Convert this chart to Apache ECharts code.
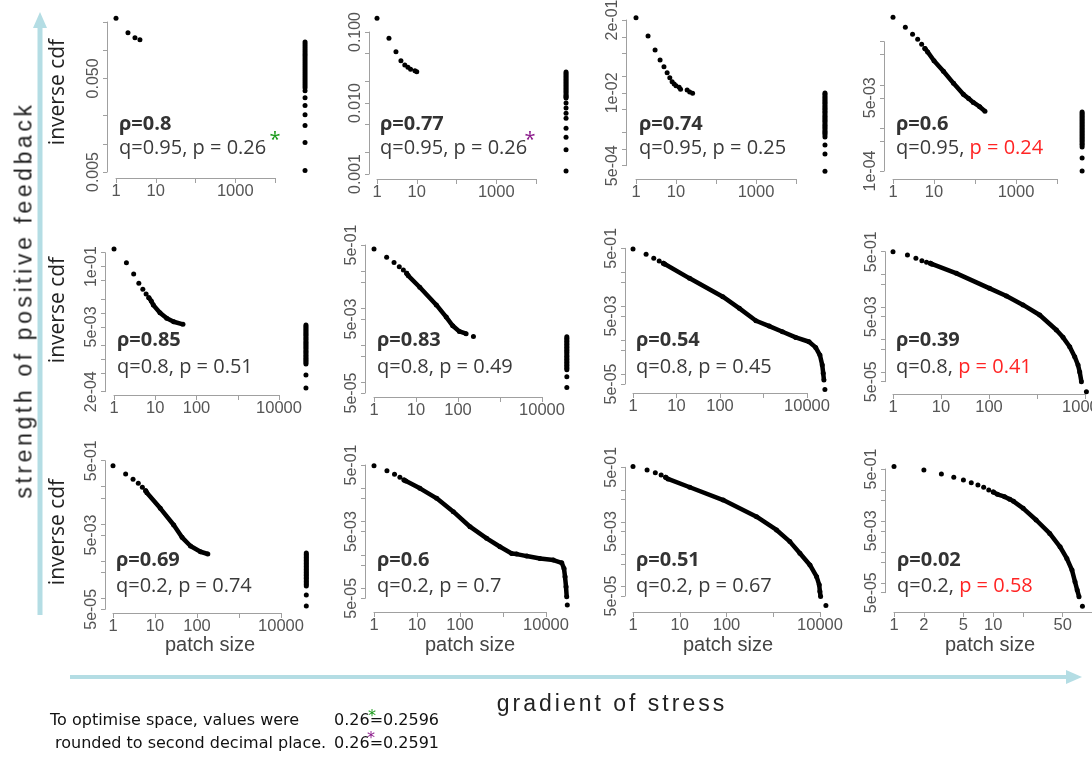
<!DOCTYPE html>
<html><head><meta charset="utf-8">
<script src="https://cdn.jsdelivr.net/npm/echarts@6/dist/echarts.min.js"></script>
<style>
html,body{margin:0;padding:0;background:#fff;}
#wrap{position:relative;width:1092px;height:758px;overflow:hidden;}
#c{position:absolute;left:0;top:0;width:1092px;height:758px;}
.ttl{position:absolute;white-space:nowrap;color:#222;font-family:'Liberation Sans',Arial,sans-serif;z-index:5;}
</style></head>
<body><div id="wrap"><div id="c"></div>
<div class="ttl" style="left:24px;top:300px;transform:translate(-50%,-50%) rotate(-90deg);font-size:23px;letter-spacing:3.6px;">strength of positive feedback</div>
<div class="ttl" style="left:612px;top:703px;transform:translate(-50%,-50%);font-size:23px;letter-spacing:3px;">gradient of stress</div>
</div>
<script>
// ---------- tick values and labels ----------
const row1XTicks = [1, 10, 100, 1000, 10000];
const row1XLabels = [[1, '1'], [10, '10'], [1000, '1000']];
const xTicks = [1, 10, 100, 1000, 10000];
const xLabels = [[1, '1'], [10, '10'], [100, '100'], [10000, '10000']];
const p12XTicks = [1, 2, 5, 10, 20, 50, 100];
const p12XLabels = [[1, '1'], [2, '2'], [5, '5'], [10, '10'], [50, '50']];
const p1YTicks = [0.005, 0.01, 0.02, 0.05, 0.1, 0.2];
const p1YLabels = [[0.005, '0.005'], [0.05, '0.050']];
const p2YTicks = [0.001, 0.002, 0.005, 0.01, 0.02, 0.05, 0.1];
const p2YLabels = [[0.001, '0.001'], [0.01, '0.010'], [0.1, '0.100']];
const p3YTicks = [5e-4, 1e-3, 2e-3, 5e-3, 1e-2, 2e-2, 5e-2, 1e-1, 2e-1];
const p3YLabels = [[5e-4, '5e-04'], [1e-2, '1e-02'], [2e-1, '2e-01']];
const p4YTicks = [1e-4, 5e-4, 1e-3, 5e-3, 1e-2, 5e-2, 1e-1];
const p4YLabels = [[1e-4, '1e-04'], [5e-3, '5e-03']];
const p5YTicks = [2e-4, 5e-4, 1e-3, 2e-3, 5e-3, 1e-2, 2e-2, 5e-2, 1e-1, 2e-1];
const p5YLabels = [[2e-4, '2e-04'], [5e-3, '5e-03'], [1e-1, '1e-01']];
const y15Ticks = [5e-5, 1e-4, 5e-4, 1e-3, 5e-3, 1e-2, 5e-2, 1e-1, 5e-1];
const y15Labels = [[5e-5, '5e-05'], [5e-3, '5e-03'], [5e-1, '5e-01']];

// ---------- annotations ----------
const rhoVals = ['0.8', '0.77', '0.74', '0.6', '0.85', '0.83', '0.54', '0.39', '0.69', '0.6', '0.51', '0.02'];
const qVals = ['0.95', '0.95', '0.95', '0.95', '0.8', '0.8', '0.8', '0.8', '0.2', '0.2', '0.2', '0.2'];
const pVals = ['0.26', '0.26', '0.25', '0.24', '0.51', '0.49', '0.45', '0.41', '0.74', '0.7', '0.67', '0.58'];
const pRed = [false, false, false, true, false, false, false, true, false, false, false, true];

// ---------- data: [patch size, inverse cdf] ----------
const p1Dots = [[1, 0.219], [2, 0.154], [3, 0.136], [4, 0.129]];
const p1Side = [0.1225, 0.1167, 0.1111, 0.1058, 0.1007, 0.0959, 0.0913, 0.087, 0.0828, 0.0789, 0.0751, 0.0715, 0.0681, 0.0648, 0.0617, 0.0588, 0.056, 0.0533, 0.0507, 0.0483, 0.046, 0.0438, 0.0417, 0.0397, 0.0369, 0.0311, 0.0256, 0.0205, 0.0157, 0.0103, 0.0052];
const p2Dots = [[1, 0.156], [2, 0.0815], [3, 0.0528], [4, 0.0394], [5, 0.0343], [6, 0.0318], [7, 0.0298], [9, 0.0285], [10, 0.0276]];
const p2Side = [0.0273, 0.026, 0.0248, 0.0236, 0.0225, 0.0214, 0.0204, 0.0194, 0.0185, 0.0176, 0.0168, 0.016, 0.0152, 0.0145, 0.0138, 0.0131, 0.01255, 0.0121, 0.01176, 0.01, 0.0085, 0.0072, 0.0061, 0.0044, 0.0033, 0.0022, 0.0011];
const p3Dots = [[1, 0.22], [2, 0.104], [3, 0.058], [4, 0.0386], [5, 0.0293], [6, 0.0229], [7, 0.0187], [8, 0.0158], [9, 0.0144], [10, 0.0134], [12, 0.0126], [13, 0.0116], [19, 0.0113], [22, 0.0104], [26, 0.0098]];
const p3Side = [0.00994, 0.0094, 0.00879, 0.0083, 0.00777, 0.0073, 0.00687, 0.0065, 0.00607, 0.0057, 0.00537, 0.0051, 0.00474, 0.0045, 0.00419, 0.0039, 0.0037, 0.0035, 0.00328, 0.0031, 0.0029, 0.0027, 0.00256, 0.0024, 0.00226, 0.0021, 0.002, 0.0019, 0.00177, 0.00163, 0.00117, 0.00081, 0.0004];
const p4Dots = [[1, 0.368], [2, 0.216], [3, 0.148], [4, 0.114], [5, 0.087], [6, 0.07]];
const p4Trail = [[6, 0.07], [7, 0.058], [10, 0.0362], [17, 0.0206], [30, 0.0108], [52, 0.006], [70, 0.0048], [91, 0.0039], [130, 0.0031], [175, 0.00244]];
const p4Side = [0.00234, 0.00215, 0.00199, 0.00184, 0.0017, 0.00157, 0.00145, 0.00134, 0.00123, 0.00114, 0.00105, 0.00097, 0.000893, 0.00082, 0.000762, 0.0007, 0.000649, 0.0006, 0.000552, 0.00051, 0.000471, 0.00043, 0.000401, 0.00036, 0.0002, 0.0001];
const p5Dots = [[1, 0.24], [2, 0.1216], [3, 0.0693], [4, 0.0437], [5, 0.0324], [6, 0.0257], [7, 0.0213]];
const p5Trail = [[7, 0.0213], [8, 0.0181], [9, 0.0148], [13, 0.0101], [19, 0.00766], [28, 0.00647], [47, 0.00568]];
const p5Side = [0.00549, 0.0051, 0.00473, 0.0044, 0.00408, 0.0038, 0.00351, 0.0033, 0.00302, 0.0028, 0.0026, 0.0024, 0.00224, 0.0021, 0.00193, 0.0018, 0.00166, 0.00154, 0.00143, 0.00133, 0.00123, 0.00114, 0.00106, 0.00098, 0.000916, 0.00085, 0.000789, 0.000457, 0.000239];
const p6Dots = [[1, 0.39], [2, 0.233], [3, 0.167], [4, 0.13], [5, 0.106], [6, 0.0863], [233, 0.00169]];
const p6Trail = [[6, 0.0863], [6.5, 0.0745], [12.3, 0.0361], [30.5, 0.012], [52.5, 0.00562], [75, 0.00328], [108, 0.00231], [156, 0.002]];
const p6Side = [0.00166, 0.0015, 0.00137, 0.00125, 0.00114, 0.00104, 0.000948, 0.00086, 0.000787, 0.00072, 0.000653, 0.0006, 0.000542, 0.00049, 0.00045, 0.00041, 0.000373, 0.00034, 0.00031, 0.00028, 0.000257, 0.000235, 0.000214, 0.000138, 0.00007];
const p7Dots = [[1, 0.477], [2, 0.333], [3, 0.2535], [4, 0.211], [5, 0.181], [25800, 0.0000347]];
const p7Trail = [[5, 0.181], [5.4, 0.1686], [20, 0.0651], [116, 0.0187], [279, 0.0085], [671, 0.00366], [1352, 0.00255], [2729, 0.00173], [5507, 0.00118], [11120, 0.00088], [15800, 0.0006], [19800, 0.000356], [22400, 0.000181], [23600, 0.000103], [24500, 0.0000652]];
const p8Dots = [[1, 0.5], [2, 0.396], [3, 0.312], [4, 0.265], [5, 0.236], [6, 0.219], [10700, 0.0000246]];
const p8Trail = [[6, 0.219], [6.5, 0.204], [21, 0.108], [103, 0.0373], [231, 0.0217], [512, 0.0115], [1138, 0.00564], [2535, 0.00195], [3483, 0.00116], [4800, 0.000597], [6100, 0.000294], [7150, 0.000163], [7760, 0.0001], [8410, 0.00005]];
const p9Dots = [[1, 0.367], [2, 0.219], [3, 0.158], [4, 0.123], [5, 0.096], [6, 0.078]];
const p9Trail = [[6, 0.078], [6.4, 0.0689], [13.4, 0.0261], [27.9, 0.00929], [44, 0.00433], [70, 0.00252], [121, 0.00177], [181, 0.00154]];
const p9Side = [0.00164, 0.0015, 0.00136, 0.00124, 0.00113, 0.00103, 0.000938, 0.00085, 0.000778, 0.00071, 0.000647, 0.00059, 0.000537, 0.00049, 0.000446, 0.00041, 0.00037, 0.00034, 0.000307, 0.00028, 0.000255, 0.000233, 0.000212, 0.000121, 0.0000614];
const p10Dots = [[1, 0.476], [2, 0.337], [3, 0.262], [4, 0.213], [5, 0.177], [31300, 0.0000313]];
const p10Trail = [[5, 0.177], [5.5, 0.166], [11.7, 0.0998], [28.7, 0.05], [70, 0.0199], [171, 0.00703], [417, 0.00315], [851, 0.00176], [1592, 0.00111], [2080, 0.00106], [3550, 0.000924], [7250, 0.000787], [14800, 0.000701], [23200, 0.000582], [26200, 0.000395], [27700, 0.000221], [29200, 0.000111], [30300, 0.0000555]];
const p11Dots = [[1, 0.53], [2, 0.412], [3, 0.34], [4, 0.288], [5, 0.244], [13370, 0.0000252]];
const p11Trail = [[5, 0.244], [5.6, 0.217], [16.4, 0.12], [85, 0.048], [439, 0.0146], [1176, 0.00565], [2266, 0.00245], [3715, 0.00107], [6086, 0.000462], [8460, 0.0002], [9620, 0.000111], [9950, 0.0000687], [10300, 0.0000479]];
const p12Dots = [[1, 0.6], [2, 0.464], [3, 0.345], [4, 0.269], [5, 0.22], [6, 0.181], [7, 0.152], [8, 0.128], [9, 0.105], [10, 0.09], [79, 0.0000184]];
const p12Trail = [[10, 0.09], [11, 0.0757], [13, 0.0637], [14.7, 0.0521], [16, 0.045], [20, 0.0267], [27, 0.0112], [37, 0.00414], [47, 0.00153], [55, 0.000644], [62, 0.000269], [66.5, 0.000113], [70, 0.0000607], [73, 0.0000371]];
// patch size at which the side strip of each panel sits
const sideXs = [57000, 57000, 53000, 41000, 45000, 39000, 0, 0, 40000, 0, 0, 0];

const panels = [
  {dots: p1Dots, trail: [], side: p1Side, xT: row1XTicks, xL: row1XLabels, yT: p1YTicks, yL: p1YLabels},
  {dots: p2Dots, trail: [], side: p2Side, xT: row1XTicks, xL: row1XLabels, yT: p2YTicks, yL: p2YLabels},
  {dots: p3Dots, trail: [], side: p3Side, xT: row1XTicks, xL: row1XLabels, yT: p3YTicks, yL: p3YLabels},
  {dots: p4Dots, trail: p4Trail, side: p4Side, xT: row1XTicks, xL: row1XLabels, yT: p4YTicks, yL: p4YLabels},
  {dots: p5Dots, trail: p5Trail, side: p5Side, xT: xTicks, xL: xLabels, yT: p5YTicks, yL: p5YLabels},
  {dots: p6Dots, trail: p6Trail, side: p6Side, xT: xTicks, xL: xLabels, yT: y15Ticks, yL: y15Labels},
  {dots: p7Dots, trail: p7Trail, side: [], xT: xTicks, xL: xLabels, yT: y15Ticks, yL: y15Labels},
  {dots: p8Dots, trail: p8Trail, side: [], xT: xTicks, xL: xLabels, yT: y15Ticks, yL: y15Labels},
  {dots: p9Dots, trail: p9Trail, side: p9Side, xT: xTicks, xL: xLabels, yT: y15Ticks, yL: y15Labels},
  {dots: p10Dots, trail: p10Trail, side: [], xT: xTicks, xL: xLabels, yT: y15Ticks, yL: y15Labels},
  {dots: p11Dots, trail: p11Trail, side: [], xT: xTicks, xL: xLabels, yT: y15Ticks, yL: y15Labels},
  {dots: p12Dots, trail: p12Trail, side: [], xT: p12XTicks, xL: p12XLabels, yT: y15Ticks, yL: y15Labels}
];

// ---------- layout (pixels) ----------
const layout = [
  {x1: 116, x2: 275, yT: 22, yB: 172, yLine: 107, xLine: 178},
  {x1: 377, x2: 536, yT: 32, yB: 174, yLine: 369, xLine: 179},
  {x1: 636, x2: 796, yT: 20, yB: 165.7, yLine: 626, xLine: 179},
  {x1: 893, x2: 1057, yT: 41.7, yB: 171, yLine: 884, xLine: 179},
  {x1: 114, x2: 279, yT: 252.7, yB: 391.7, yLine: 105, xLine: 395},
  {x1: 374, x2: 542, yT: 245, yB: 393, yLine: 365, xLine: 397},
  {x1: 633, x2: 807, yT: 248.3, yB: 384, yLine: 625, xLine: 393},
  {x1: 893, x2: 1085, yT: 251.7, yB: 381.7, yLine: 885, xLine: 394},
  {x1: 113, x2: 281, yT: 460.7, yB: 609.3, yLine: 105, xLine: 613},
  {x1: 374, x2: 546, yT: 465, yB: 598.3, yLine: 365, xLine: 612},
  {x1: 633, x2: 820, yT: 467.3, yB: 596, yLine: 625, xLine: 612},
  {x1: 894, x2: 1092.6, yT: 469, yB: 592.7, yLine: 885, xLine: 612}
];
const textRowY = [[124, 148], [340, 367], [560, 586]];
// full data-space range of the (hidden) plotting axes, in decades
const DATA_X_LOG = [0, 5];
const DATA_Y_LOG = [-6, 0];

const L10 = Math.log10;
const FONT_AX = "'Liberation Sans', Arial, sans-serif";
const FONT_TX = "'Open Sans', 'DejaVu Sans', sans-serif";
const axisStyle = {color: '#a0a0a0', width: 1};
const INK = '#000';

function fmtFrom(labels) {
  return function (v) {
    for (const l of labels) { if (Math.abs(L10(l[0]) - v) < 1e-6) return l[1]; }
    return '';
  };
}

const grids = [], xAxes = [], yAxes = [], series = [], graphics = [];
panels.forEach((p, i) => {
  const g = layout[i];
  const xr = [L10(p.xT[0]), L10(p.xT[p.xT.length - 1])];
  const yr = [L10(p.yT[0]), L10(p.yT[p.yT.length - 1])];
  const decX = (g.x2 - g.x1) / (xr[1] - xr[0]);
  const decY = (g.yB - g.yT) / (yr[1] - yr[0]);
  // axis grid (R-style axes spanning first..last tick)
  const ai = 2 * i, di = 2 * i + 1;
  grids.push({left: g.x1, top: g.yT, width: g.x2 - g.x1, height: g.yB - g.yT, containLabel: false, outerBoundsMode: 'none'});
  // plotting grid: same scale, wider range so points beyond the axis ends are drawn
  grids.push({left: g.x1 - decX * (xr[0] - DATA_X_LOG[0]), top: g.yT - decY * (DATA_Y_LOG[1] - yr[1]),
    width: decX * (DATA_X_LOG[1] - DATA_X_LOG[0]), height: decY * (DATA_Y_LOG[1] - DATA_Y_LOG[0]), containLabel: false, outerBoundsMode: 'none'});
  xAxes.push({
    type: 'value', gridIndex: ai, min: xr[0], max: xr[1],
    offset: g.xLine - g.yB,
    axisLine: {show: true, onZero: false, lineStyle: axisStyle},
    axisTick: {show: true, inside: false, length: 5, customValues: p.xT.map(L10), lineStyle: axisStyle},
    axisLabel: {show: true, customValues: p.xL.map(l => L10(l[0])), formatter: fmtFrom(p.xL), color: '#555', fontSize: 16.5, fontFamily: FONT_AX, margin: 5},
    splitLine: {show: false}
  });
  xAxes.push({type: 'value', gridIndex: di, min: DATA_X_LOG[0], max: DATA_X_LOG[1], show: false, splitLine: {show: false}});
  yAxes.push({
    type: 'value', gridIndex: ai, min: yr[0], max: yr[1],
    offset: g.x1 - g.yLine,
    axisLine: {show: true, onZero: false, lineStyle: axisStyle},
    axisTick: {show: true, inside: false, length: 4, customValues: p.yT.map(L10), lineStyle: axisStyle},
    axisLabel: {show: true, rotate: 90, customValues: p.yL.map(l => L10(l[0])), formatter: fmtFrom(p.yL), color: '#555', fontSize: 16, fontFamily: FONT_AX, margin: 5},
    splitLine: {show: false}
  });
  yAxes.push({type: 'value', gridIndex: di, min: DATA_Y_LOG[0], max: DATA_Y_LOG[1], show: false, splitLine: {show: false}});
  if (p.trail.length) {
    series.push({
      type: 'line', xAxisIndex: di, yAxisIndex: di, clip: false, silent: true,
      data: p.trail.map(d => [L10(d[0]), L10(d[1])]),
      showSymbol: true, showAllSymbol: true, symbol: 'circle', symbolSize: 5,
      lineStyle: {width: 4.5, color: INK, opacity: 1}, itemStyle: {color: INK, opacity: 1}, z: 3
    });
  }
  series.push({
    type: 'scatter', xAxisIndex: di, yAxisIndex: di, clip: false, silent: true,
    data: p.dots.map(d => [L10(d[0]), L10(d[1])]),
    symbol: 'circle', symbolSize: 5, itemStyle: {color: INK, opacity: 1}, z: 4
  });
  if (p.side.length) {
    series.push({
      type: 'scatter', xAxisIndex: di, yAxisIndex: di, clip: false, silent: true,
      data: p.side.map(v => [L10(sideXs[i]), L10(v)]),
      symbol: 'circle', symbolSize: 5, itemStyle: {color: INK, opacity: 1}, z: 4
    });
  }
  // annotations
  const row = Math.floor(i / 4);
  const tx = g.x1 + 3;
  graphics.push({type: 'text', x: tx, y: textRowY[row][0], silent: true,
    style: {text: 'ρ=' + rhoVals[i], font: 'bold 20px ' + FONT_TX, fill: '#333', textAlign: 'left', textVerticalAlign: 'middle', align: 'left', verticalAlign: 'middle'}});
  const qs = 'q=' + qVals[i] + ', ';
  const ps = 'p = ' + pVals[i];
  graphics.push({type: 'text', x: tx, y: textRowY[row][1], silent: true,
    style: {text: '{a|' + qs + '}{b|' + ps + '}', textAlign: 'left', textVerticalAlign: 'middle', align: 'left', verticalAlign: 'middle',
      rich: {
        a: {fill: '#3a3a3a', color: '#3a3a3a', fontSize: 20, fontFamily: FONT_TX},
        b: {fill: pRed[i] ? '#ff2424' : '#3a3a3a', color: pRed[i] ? '#ff2424' : '#3a3a3a', fontSize: 20, fontFamily: FONT_TX}
      }}});
});

// inverse cdf labels
[92, 310, 532].forEach(y => {
  graphics.push({type: 'text', x: 58, y: y, rotation: Math.PI / 2, silent: true,
    style: {text: 'inverse cdf', font: '21px ' + FONT_TX, fill: '#222', textAlign: 'center', textVerticalAlign: 'middle', align: 'center', verticalAlign: 'middle'}});
});
// patch size labels
[210, 470, 728, 990].forEach(x => {
  graphics.push({type: 'text', x: x, y: 645, silent: true,
    style: {text: 'patch size', font: '20px ' + FONT_AX, fill: '#444', textAlign: 'center', textVerticalAlign: 'middle', align: 'center', verticalAlign: 'middle'}});
});
// asterisks by panels
graphics.push({type: 'text', x: 275, y: 140, silent: true, style: {text: '*', font: '20px ' + FONT_TX, fill: '#1a9a1a', textAlign: 'center', textVerticalAlign: 'middle', align: 'center', verticalAlign: 'middle'}});
graphics.push({type: 'text', x: 530, y: 140, silent: true, style: {text: '*', font: '20px ' + FONT_TX, fill: '#8b1a8b', textAlign: 'center', textVerticalAlign: 'middle', align: 'center', verticalAlign: 'middle'}});
// arrows
const ARW = '#b4dde4';
graphics.push({type: 'line', silent: true, shape: {x1: 40, y1: 615, x2: 40, y2: 26}, style: {stroke: ARW, lineWidth: 5}});
graphics.push({type: 'polygon', silent: true, shape: {points: [[40, 12], [33, 28], [47, 28]]}, style: {fill: ARW}});
graphics.push({type: 'line', silent: true, shape: {x1: 70, y1: 677, x2: 1068, y2: 677}, style: {stroke: ARW, lineWidth: 4}});
graphics.push({type: 'polygon', silent: true, shape: {points: [[1082, 677], [1066, 670], [1066, 684]]}, style: {fill: ARW}});
// footnote
const FN = "'DejaVu Sans', sans-serif";
[['To optimise space, values were', 50, 721], ['rounded to second decimal place.', 55, 744], ['0.26=0.2596', 334, 721], ['0.26=0.2591', 334, 744]].forEach(t => {
  graphics.push({type: 'text', x: t[1], y: t[2], silent: true, style: {text: t[0], font: '16px ' + FN, fill: '#111', textAlign: 'left', textVerticalAlign: 'middle', align: 'left', verticalAlign: 'middle'}});
});
graphics.push({type: 'text', x: 372, y: 717, silent: true, style: {text: '*', font: '16px ' + FN, fill: '#1a9a1a', textAlign: 'center', textVerticalAlign: 'middle', align: 'center', verticalAlign: 'middle'}});
graphics.push({type: 'text', x: 371, y: 739, silent: true, style: {text: '*', font: '16px ' + FN, fill: '#8b1a8b', textAlign: 'center', textVerticalAlign: 'middle', align: 'center', verticalAlign: 'middle'}});

const chart = echarts.init(document.getElementById('c'), null, {renderer: 'canvas', width: 1092, height: 758});
chart.setOption({
  animation: false,
  backgroundColor: '#fff',
  textStyle: {fontFamily: FONT_AX},
  grid: grids, xAxis: xAxes, yAxis: yAxes, series: series,
  graphic: {elements: graphics}
});
</script></body></html>
